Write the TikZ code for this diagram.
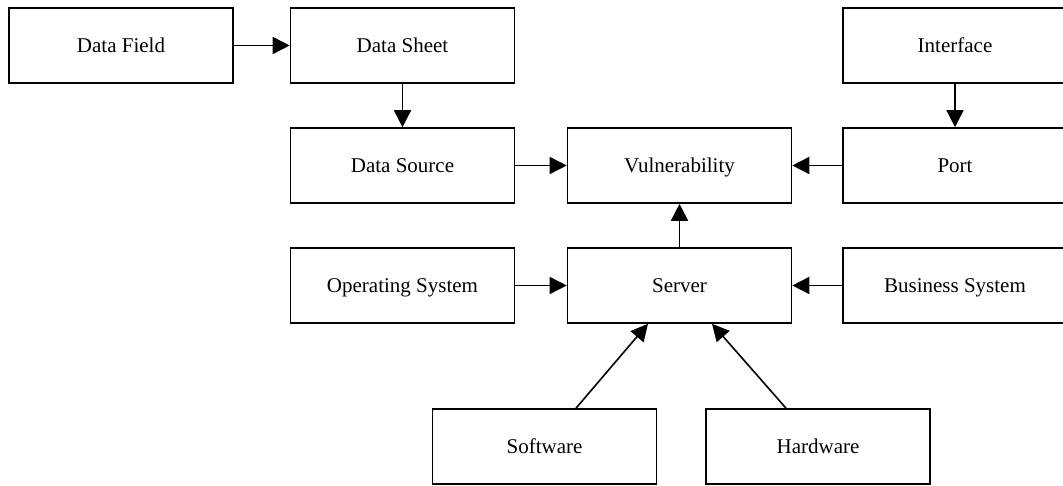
\documentclass[tikz,border=0pt]{standalone}
\usepackage{fontspec}
\setmainfont{Liberation Serif}
\usepackage{tikz}
\usetikzlibrary{arrows.meta}

\begin{document}
\begin{tikzpicture}[x=0.5pt,y=0.5pt,font=\fontsize{10.5}{12}\selectfont,
    box/.style={draw,line width=0.8pt,minimum width=112pt,minimum height=37.5pt,inner sep=0pt,
      text height=0.8em,text depth=0.14em},
    arr/.style={line width=0.8pt,-{Triangle[length=8.5pt,width=8.5pt]}}]
        \useasboundingbox (0,0) rectangle (1063,486);
        \foreach \n/\x/\y/\t in {field/121/440.5/Data Field,sheet/402.5/440.5/Data Sheet,iface/955/440.5/Interface,
          source/402.5/320.5/Data Source,vuln/679.5/320.5/Vulnerability,port/955/320.5/Port,
          os/402.5/200.5/Operating System,server/679.5/200.5/Server,bsys/955/200.5/Business System,
          soft/544.5/39.5/Software,hard/818/39.5/Hardware}{
          \node[box] (\n) at (\x,\y) {\t};
        }
        \foreach \a/\b in {field/sheet,sheet/source,iface/port,source/vuln,port/vuln,server/vuln,os/server,bsys/server}{
          \draw[arr] (\a) -- (\b);
        }
        \draw[arr] ([xshift=15.75pt]soft.north) -- ([xshift=-15.75pt]server.south);
        \draw[arr] ([xshift=-16pt]hard.north) -- ([xshift=16.25pt]server.south);
      \end{tikzpicture}
\end{document}
